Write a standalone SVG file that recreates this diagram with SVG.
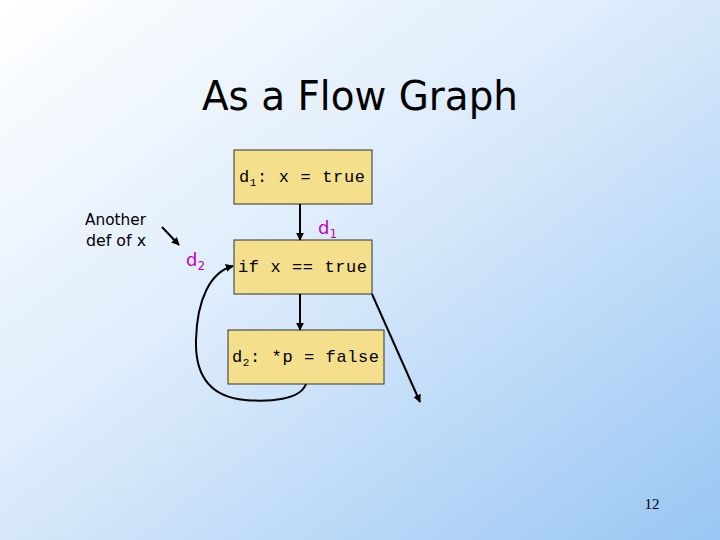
<svg xmlns="http://www.w3.org/2000/svg" width="720" height="540" viewBox="0 0 720 540">
<defs>
<linearGradient id="bg" x1="0" y1="0" x2="1" y2="1">
<stop offset="0" stop-color="#ffffff"/>
<stop offset="0.45" stop-color="#dcebfb"/>
<stop offset="1" stop-color="#99c6f3"/>
</linearGradient>
<marker id="ah" viewBox="0 0 10 10" refX="9" refY="5" markerWidth="8" markerHeight="8" markerUnits="userSpaceOnUse" orient="auto">
<path d="M0,0 L10,5 L0,10 z" fill="#000"/>
</marker>
<style>
.box{fill:#f3df8c;stroke:#333;stroke-width:1}
.code{font-family:"Liberation Mono",monospace;font-size:17px;fill:#000}
.lbl{font-family:"DejaVu Sans",sans-serif;font-size:18px;fill:#c000c0}
.edge{fill:none;stroke:#000;stroke-width:2;marker-end:url(#ah)}
</style>
</defs>
<rect width="720" height="540" fill="url(#bg)"/>
<text x="360" y="110" text-anchor="middle" font-family="DejaVu Sans,sans-serif" font-size="40" fill="#000" textLength="316" lengthAdjust="spacingAndGlyphs">As a Flow Graph</text>
<g id="n1">
<rect class="box" x="234" y="150" width="138" height="54"/>
<text class="code" x="239" y="182" textLength="126" lengthAdjust="spacing">d<tspan font-size="11" dy="4">1</tspan><tspan dy="-4">: x = true</tspan></text>
</g>
<g id="n2">
<rect class="box" x="234" y="240" width="138" height="54"/>
<text class="code" x="238" y="272" textLength="129" lengthAdjust="spacing">if x == true</text>
</g>
<g id="n3">
<rect class="box" x="228" y="330" width="156" height="54"/>
<text class="code" x="232" y="362" textLength="147" lengthAdjust="spacing">d<tspan font-size="11" dy="4">2</tspan><tspan dy="-4">: *p = false</tspan></text>
</g>
<g id="labels">
<text class="lbl" x="318" y="234">d<tspan font-size="12" dy="4">1</tspan></text>
<text class="lbl" x="186" y="266">d<tspan font-size="12" dy="4">2</tspan></text>
<text font-family="DejaVu Sans,sans-serif" font-size="15" fill="#000" x="85" y="225" textLength="61" lengthAdjust="spacingAndGlyphs">Another</text>
<text font-family="DejaVu Sans,sans-serif" font-size="15" fill="#000" x="86" y="246" textLength="60" lengthAdjust="spacingAndGlyphs">def of x</text>
<text font-family="Liberation Serif,serif" font-size="15" fill="#000" x="652" y="509" text-anchor="middle">12</text>
</g>
<g id="edges">
<line class="edge" x1="300" y1="204" x2="300" y2="240"/>
<line class="edge" x1="300" y1="294" x2="300" y2="330"/>
<line class="edge" x1="372" y1="294" x2="420" y2="402"/>
<line class="edge" x1="162" y1="227" x2="179" y2="245"/>
<path class="edge" d="M306,384 C300,400 270,402 245,400 C210,397 195,375 196,340 C197,300 210,272 233,266"/>
</g>
</svg>
